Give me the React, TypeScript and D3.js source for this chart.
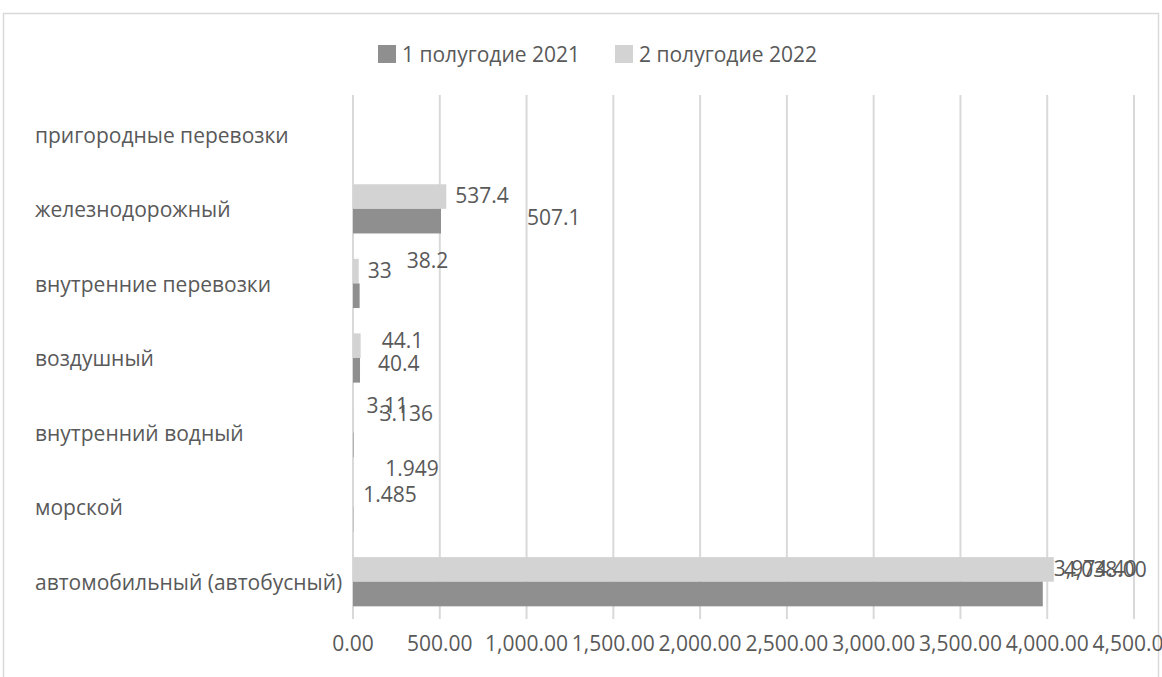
import React from "react";
import * as d3 from "d3";

const categories = [
  "пригородные перевозки",
  "железнодорожный",
  "внутренние перевозки",
  "воздушный",
  "внутренний водный",
  "морской",
  "автомобильный (автобусный)",
];
const values2021: (number | null)[] = [null, 507.1, 38.2, 40.4, 3.136, 1.485, 3974.4];
const values2022: (number | null)[] = [null, 537.4, 33, 44.1, 3.11, 1.949, 4038];
const seriesNames = ["1 полугодие 2021", "2 полугодие 2022"];
const xTicks = [0, 500, 1000, 1500, 2000, 2500, 3000, 3500, 4000, 4500];

// label placement offsets (layout only): [dx, dy] from bar end / bar center
const labelOffset2021: [number, number][] = [[0, 0], [86, -4], [47, -35], [18, -7], [26, -31], [10, -25], [11, -25]];
const labelOffset2022: [number, number][] = [[0, 0], [9, -1], [9, 0], [21, -5], [13, -15], [32, -26], [10, 0]];

const W = 1162;
const H = 677;
const FONT = "'Open Sans', 'Noto Sans', sans-serif";
const FS = 21;
const TEXT = "#595959";
const DARK = "#8f8f8f";
const LIGHT = "#d3d3d3";
const GRID = "#d9d9d9";

const fmtBig = d3.format(",.2f");
const fmtLabel = (v: number) => (v >= 1000 ? fmtBig(v) : String(v));
const fmtTick = d3.format(",.2f");

export default function App() {
  const x = d3.scaleLinear().domain([0, 4500]).range([353, 1134]);
  const y = d3
    .scaleBand<string>()
    .domain(categories)
    .range([97, 619])
    .paddingInner(0.34)
    .paddingOuter(0.17);
  const sub = d3
    .scaleBand<string>()
    .domain(["2022", "2021"])
    .range([0, y.bandwidth()]);

  const series = [
    { key: "2022", values: values2022, color: LIGHT, offs: labelOffset2022 },
    { key: "2021", values: values2021, color: DARK, offs: labelOffset2021 },
  ];

  return (
    <svg
      width={W}
      height={H}
      style={{ position: "absolute", left: 0, top: 0, background: "#fff" }}
      fontFamily={FONT}
    >
      <rect x={3.5} y={13.5} width={1155} height={700} fill="none" stroke={GRID} strokeWidth={1.5} />

      {/* legend */}
      <g>
        {seriesNames.map((name, i) => {
          const lx = i === 0 ? 378 : 615;
          return (
            <g key={name}>
              <rect x={lx} y={45} width={18} height={18} fill={i === 0 ? DARK : LIGHT} />
              <text x={lx + 24} y={55} dy="0.35em" fontSize={FS} fill={TEXT}>
                {name}
              </text>
            </g>
          );
        })}
      </g>

      {/* gridlines */}
      {xTicks.map((t) => (
        <line key={t} x1={x(t)} x2={x(t)} y1={95} y2={619} stroke={GRID} strokeWidth={2} />
      ))}

      {/* x tick labels */}
      {xTicks.map((t) => (
        <text key={"t" + t} x={x(t)} y={644} dy="0.35em" textAnchor="middle" fontSize={FS} fill={TEXT}>
          {fmtTick(t)}
        </text>
      ))}

      {/* category labels */}
      {categories.map((c) => (
        <text key={c} x={35} y={(y(c) as number) + y.bandwidth() / 2 + 1} dy="0.35em" fontSize={FS} fill={TEXT}>
          {c}
        </text>
      ))}

      {/* bars */}
      {series.map((s) =>
        categories.map((c, i) => {
          const v = s.values[i];
          if (v == null) return null;
          const by = (y(c) as number) + (sub(s.key) as number);
          return (
            <rect
              key={s.key + c}
              x={x(0)}
              y={by}
              width={x(v) - x(0)}
              height={sub.bandwidth()}
              fill={s.color}
            />
          );
        })
      )}

      {/* data labels */}
      {series.map((s) =>
        categories.map((c, i) => {
          const v = s.values[i];
          if (v == null) return null;
          const by = (y(c) as number) + (sub(s.key) as number) + sub.bandwidth() / 2;
          const [dx, dy] = s.offs[i];
          return (
            <text
              key={"l" + s.key + c}
              x={x(v) + dx}
              y={by + dy}
              dy="0.35em"
              fontSize={FS}
              fill={TEXT}
            >
              {fmtLabel(v)}
            </text>
          );
        })
      )}
    </svg>
  );
}
